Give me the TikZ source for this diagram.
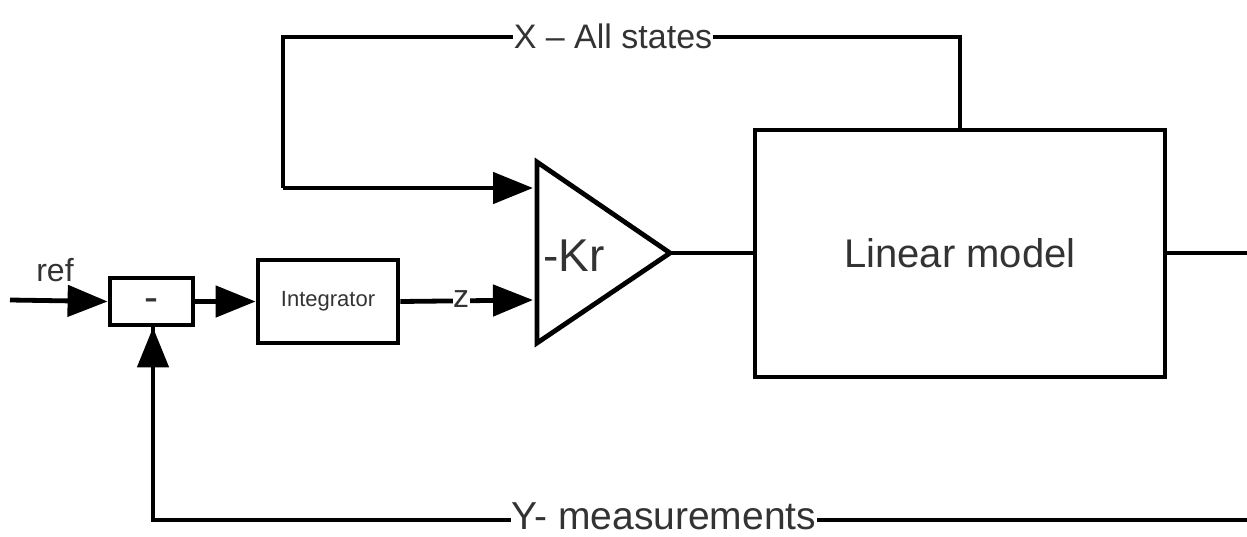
\documentclass[tikz,border=0pt]{standalone}
\usepackage{fontspec}
\setmainfont{Liberation Sans}
\usetikzlibrary{arrows.meta}
\definecolor{txt}{HTML}{333333}
\begin{document}
\begin{tikzpicture}[x=1pt,y=-1pt,
  wire/.style={line width=4.8pt},
  arr/.style={wire,-{Triangle[length=40pt,width=31pt]}},
  blk/.style={draw,line width=4.8pt,inner sep=0pt},
  lbl/.style={text=txt,inner sep=0.5pt,fill=white},
  fs/.style={font=\fontsize{#1}{#1}\selectfont}
]
\useasboundingbox (0,0) rectangle (1247,536);
% blocks
\node[blk,minimum width=83pt,minimum height=47pt,fs=42,text=txt] (minus) at (151.5,301.5) {\smash{\raisebox{-10pt}{-}}};
\node[blk,minimum width=140pt,minimum height=83pt,fs=22,text=txt] (integ) at (328,301.5) {Integrator};
\node[blk,minimum width=410pt,minimum height=247pt,fs=40,text=txt] (lin) at (960,253.5) {Linear model};
% gain triangle
\coordinate (ttop) at (537,162);
\coordinate (tbot) at (537,343);
\coordinate (kout) at (670,253);
\draw[line width=4.8pt,line join=miter] (ttop) -- (kout) -- (tbot) -- cycle;
\node[fs=46,text=txt,anchor=west,inner sep=0pt] (kr) at (543,256) {-Kr};
\coordinate (kin1) at (537,188);
\coordinate (kin2) at (537,300);
% ref input
\coordinate (refin) at (10,300);
\draw[arr] (refin) -- (minus.west);
\node[fs=32,text=txt,inner sep=0pt] (ref) at (55,270) {ref};
% minus -> integrator
\draw[arr] (minus.east) -- (integ.west);
% integrator -> gain (z)
\draw[arr] (integ.east) -- ([xshift=-4pt]kin2);
\node[lbl,fs=32] (z) at (461,299) {z};
% gain -> linear model
\draw[wire] (kout) -- (lin.west |- kout);
% output
\coordinate (yout) at (1250,253);
\draw[wire] (lin.east |- yout) -- (yout);
% state feedback
\coordinate (xa) at (960,37);
\coordinate (xb) at (283,37);
\coordinate (xc) at (283,188);
\draw[wire,line join=miter] (lin.north -| xa) -- (xa) -- (xb) -- (xc);
\draw[arr] (xc) -- ([xshift=-4pt]kin1);
\node[lbl,fs=34] (xlab) at (613,36) {X -- All states};
% measurement feedback
\coordinate (ya) at (1250,520);
\coordinate (yb) at (153,520);
\draw[wire,line join=miter] (ya) -- (yb) -- (minus.south -| yb);
\draw[arr] (153,400) -- (minus.south -| yb);
\node[lbl,fs=39] (ylab) at (664,516) {Y- measurements};
\end{tikzpicture}
\end{document}
